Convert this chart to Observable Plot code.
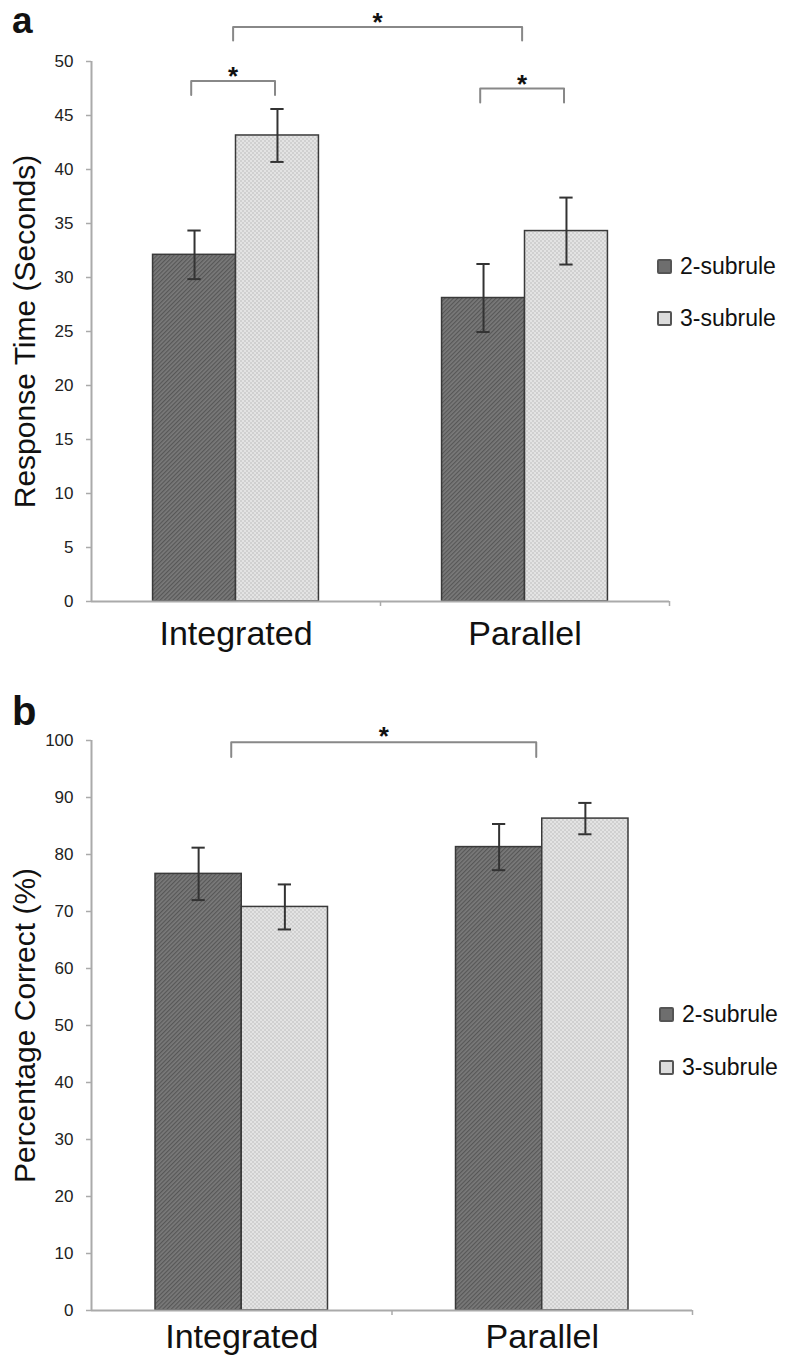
<!DOCTYPE html>
<html>
<head>
<meta charset="utf-8">
<script src="https://cdn.jsdelivr.net/npm/d3@7"></script>
<script src="https://cdn.jsdelivr.net/npm/@observablehq/plot@0.6"></script>
<style>
  html, body { margin: 0; padding: 0; background: #fff; }
  body { font-family: "Liberation Sans", Arial, Helvetica, sans-serif; }
  #root { position: relative; width: 788px; height: 1358px; overflow: hidden; }
  .panel { position: absolute; left: 0; width: 788px; }
  .panel svg { position: absolute; left: 0; top: 0; }
  .letter { position: absolute; left: 12px; font-weight: bold; color: #111; line-height: 24px; }
  .legend { position: absolute; left: 0; top: 0; width: 788px; height: 0; font-size: 23px; color: #111; }
  .legend .item { position: absolute; white-space: nowrap; display: flex; align-items: center; line-height: 26px; }
  .legend .sw { width: 15px; height: 15px; margin-right: 8px; box-sizing: border-box; border: 2px solid #555; border-radius: 2px; }
</style>
</head>
<body>
<div id="root"></div>
<script>
// ---------- data ----------
const groups = ["Integrated", "Parallel"];
const series = ["2-subrule", "3-subrule"];

// Panel a: Response Time (Seconds)
const rtMean2 = [32.1, 28.1];
const rtMean3 = [43.15, 34.3];
const rtSE2 = [2.25, 3.15];
const rtSE3 = [2.45, 3.1];
const rtTicks = [0, 5, 10, 15, 20, 25, 30, 35, 40, 45, 50];

// Panel b: Percentage Correct (%)
const pcMean2 = [76.6, 81.3];
const pcMean3 = [70.8, 86.3];
const pcSE2 = [4.6, 4.05];
const pcSE3 = [3.95, 2.75];
const pcTicks = [0, 10, 20, 30, 40, 50, 60, 70, 80, 90, 100];

// significance brackets (x in group units, y in data units)
const bracketsA = [
  {x1: 0.345, x2: 0.635, y: 48.2, drop: 1.3},
  {x1: 1.345, x2: 1.635, y: 47.5, drop: 1.3},
  {x1: 0.49, x2: 1.49, y: 53.2, drop: 1.25}
];
const bracketsB = [
  {x1: 0.465, x2: 1.48, y: 99.7, drop: 2.6}
];

// ---------- drawing ----------
const FONT = '"Liberation Sans", Arial, Helvetica, sans-serif';
const barW = 0.287;

function rowsFor(m2, m3, s2, s3) {
  const rows = [];
  groups.forEach((g, i) => {
    rows.push({group: g, series: series[0], xc: i + 0.5 - barW / 2, mean: m2[i], se: s2[i]});
    rows.push({group: g, series: series[1], xc: i + 0.5 + barW / 2, mean: m3[i], se: s3[i]});
  });
  return rows;
}

function panel(opts) {
  const {id, rows, yMax, ticks, yLabel, yLabelSize, brackets, height, marginTop, marginBottom, marginRight, catDy, starDy, capW} = opts;
  const bracketPts = brackets.flatMap((b, i) => [
    {i, x: b.x1, y: b.y - b.drop},
    {i, x: b.x1, y: b.y},
    {i, x: b.x2, y: b.y},
    {i, x: b.x2, y: b.y - b.drop}
  ]);
  const svg = Plot.plot({
    width: 788,
    height,
    marginLeft: 91,
    marginRight,
    marginTop,
    marginBottom,
    x: {domain: [0, 2]},
    y: {domain: [0, yMax]},
    style: {fontFamily: FONT, background: "white", color: "#222", overflow: "visible"},
    marks: [
      Plot.axisY({ticks, tickSize: 5, tickPadding: 13, fontSize: 17, stroke: "#aaa", strokeWidth: 1.5, fill: "#222", label: null}),
      Plot.axisX({ticks: [1, 2], tickFormat: () => "", tickSize: 5, stroke: "#aaa", strokeWidth: 1.5, label: null}),
      Plot.rectY(rows, {filter: d => d.series === series[0], x1: d => d.xc - barW / 2, x2: d => d.xc + barW / 2, y: "mean",
        fill: `url(#${id}-dark)`, stroke: "#3a3a3a", strokeWidth: 1.5}),
      Plot.rectY(rows, {filter: d => d.series === series[1], x1: d => d.xc - barW / 2, x2: d => d.xc + barW / 2, y: "mean",
        fill: `url(#${id}-light)`, stroke: "#3a3a3a", strokeWidth: 1.5}),
      Plot.ruleX([0], {y1: 0, y2: yMax, stroke: "#aaa", strokeWidth: 2}),
      Plot.ruleY([0], {x1: 0, x2: 2, stroke: "#aaa", strokeWidth: 2}),
      Plot.ruleX(rows, {x: "xc", y1: d => d.mean - d.se, y2: d => d.mean + d.se, stroke: "#333", strokeWidth: 2}),
      Plot.ruleY(rows, {y: d => d.mean + d.se, x1: d => d.xc - capW, x2: d => d.xc + capW, stroke: "#333", strokeWidth: 2}),
      Plot.ruleY(rows, {y: d => d.mean - d.se, x1: d => d.xc - capW, x2: d => d.xc + capW, stroke: "#333", strokeWidth: 2}),
      Plot.line(bracketPts, {x: "x", y: "y", z: "i", stroke: "#888", strokeWidth: 2}),
      Plot.text(brackets, {x: d => (d.x1 + d.x2) / 2, y: "y", text: () => "*", fontSize: 26, fontWeight: "bold", fill: "#111", lineAnchor: "middle", dy: starDy}),
      Plot.text(groups, {x: (d, i) => i + 0.5, y: () => 0, text: d => d, fontSize: 34, fill: "#111", lineAnchor: "middle", dy: catDy}),
      Plot.text([yLabel], {frameAnchor: "left", textAnchor: "middle", dx: -66, rotate: -90, fontSize: yLabelSize, fill: "#111", text: d => d})
    ]
  });
  const defs = `<defs>
    <pattern id="${id}-dark" width="3" height="3" patternUnits="userSpaceOnUse" patternTransform="rotate(45)">
      <rect width="3" height="3" fill="#7a7a7a"/><rect width="1.2" height="3" fill="#575757"/>
    </pattern>
    <pattern id="${id}-light" width="4" height="4" patternUnits="userSpaceOnUse">
      <rect width="4" height="4" fill="#e3e3e3"/><rect width="2" height="2" fill="#d0d0d0"/><rect x="2" y="2" width="2" height="2" fill="#d0d0d0"/>
    </pattern>
  </defs>`;
  svg.insertAdjacentHTML("afterbegin", defs);
  return svg;
}

function legend(container, top1, top2, left) {
  const lg = document.createElement("div");
  lg.className = "legend";
  const items = [
    {label: series[0], top: top1, bg: "#6e6e6e"},
    {label: series[1], top: top2, bg: "#dcdcdc"}
  ];
  items.forEach(it => {
    const el = document.createElement("div");
    el.className = "item";
    el.style.left = left + "px";
    el.style.top = it.top + "px";
    const sw = document.createElement("span");
    sw.className = "sw";
    sw.style.background = it.bg;
    const tx = document.createElement("span");
    tx.textContent = it.label;
    el.appendChild(sw);
    el.appendChild(tx);
    lg.appendChild(el);
  });
  container.appendChild(lg);
}

const root = document.getElementById("root");

// Panel a
const pa = document.createElement("div");
pa.className = "panel";
pa.style.top = "0px";
pa.style.height = "665px";
pa.appendChild(panel({
  id: "pa",
  rows: rowsFor(rtMean2, rtMean3, rtSE2, rtSE3),
  yMax: 50, ticks: rtTicks, yLabel: "Response Time (Seconds)", yLabelSize: 30,
  brackets: bracketsA,
  height: 665, marginTop: 61, marginBottom: 64, marginRight: 119,
  catDy: 33, starDy: -4, capW: 0.023
}));
const la = document.createElement("div");
la.className = "letter"; la.textContent = "a"; la.style.top = "9px"; la.style.fontSize = "37px";
pa.appendChild(la);
legend(pa, 253, 305, 657);
root.appendChild(pa);

// Panel b
const pb = document.createElement("div");
pb.className = "panel";
pb.style.top = "665px";
pb.style.height = "693px";
pb.appendChild(panel({
  id: "pb",
  rows: rowsFor(pcMean2, pcMean3, pcSE2, pcSE3),
  yMax: 100, ticks: pcTicks, yLabel: "Percentage Correct (%)", yLabelSize: 30,
  brackets: bracketsB,
  height: 693, marginTop: 75, marginBottom: 48, marginRight: 96,
  catDy: 27, starDy: -6, capW: 0.022
}));
const lb = document.createElement("div");
lb.className = "letter"; lb.textContent = "b"; lb.style.top = "34px"; lb.style.fontSize = "40px";
pb.appendChild(lb);
legend(pb, 336, 389, 659);
root.appendChild(pb);
</script>
</body>
</html>
